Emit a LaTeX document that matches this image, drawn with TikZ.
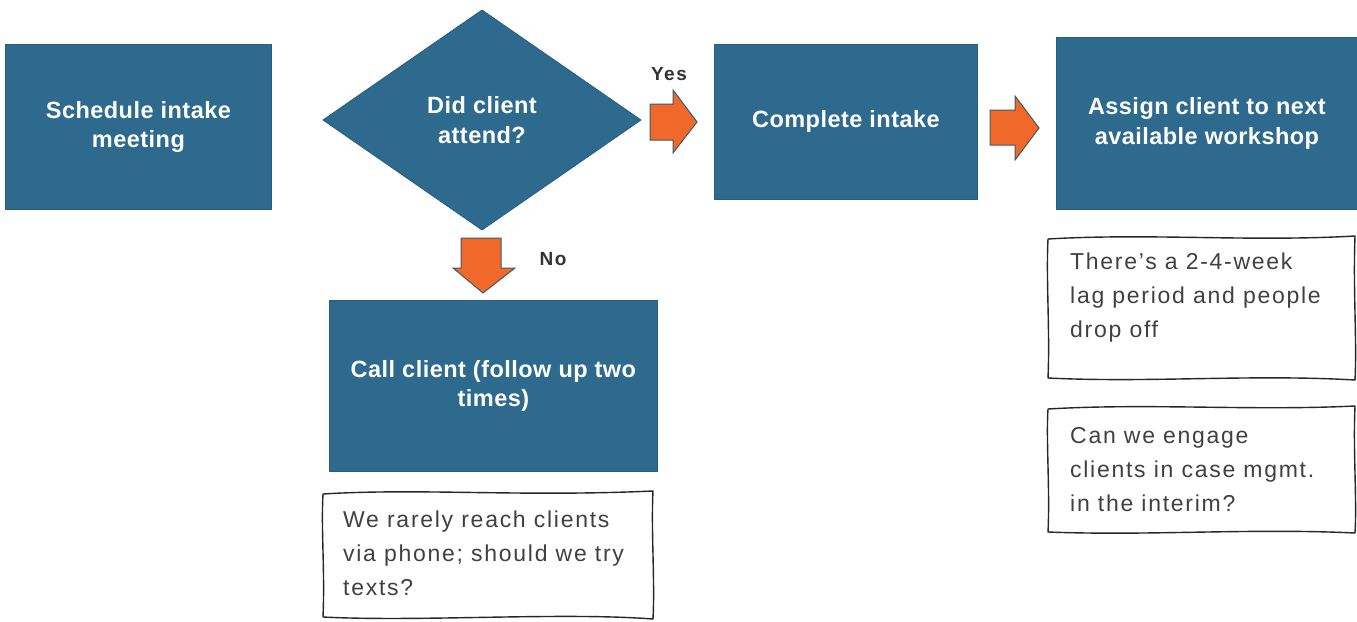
\documentclass[tikz,border=0pt]{standalone}
\usepackage{fontspec}
\setmainfont{Liberation Sans}
\definecolor{boxblue}{HTML}{2D6A8E}
\definecolor{boxedge}{HTML}{285E7E}
\definecolor{arroworange}{HTML}{F0692A}
\definecolor{arrowedge}{HTML}{3E5A6C}
\definecolor{notetext}{HTML}{404040}
\begin{document}
\begin{tikzpicture}[x=1pt,y=-1pt,
  stepbox/.style={rectangle,fill=boxblue,draw=boxedge,line width=0.8pt,text=white,
    font=\fontsize{23.5}{29.5}\selectfont\bfseries\addfontfeatures{LetterSpace=2},align=center,anchor=north west,inner sep=0pt},
  blockarrow/.style={fill=arroworange,draw=arrowedge,line width=1pt,line join=miter},
  notebox/.style={draw=black!85,line width=1.4pt,line join=round},
  notetxt/.style={anchor=north west,align=left,text=notetext,inner sep=0pt,
    font=\fontsize{23}{34}\selectfont\addfontfeatures{LetterSpace=7.5}},
  lbl/.style={font=\fontsize{19}{22}\selectfont\bfseries\addfontfeatures{LetterSpace=8},text=black!80}]
\useasboundingbox (0,0) rectangle (1357,621);
% boxes
\node[stepbox,minimum width=266pt,minimum height=165pt] (sched) at (5,44) {Schedule intake\\meeting};
\node[stepbox,minimum width=263pt,minimum height=155pt] (comp) at (714,44) {Complete intake};
\node[stepbox,minimum width=301pt,minimum height=172pt] (assign) at (1056,37) {Assign client to next\\available workshop};
\node[stepbox,minimum width=328pt,minimum height=171pt] (call) at (329,300) {Call client (follow up two\\times)};
% diamond
\coordinate (dc) at (482,120);
\draw[fill=boxblue,draw=boxedge,line width=0.8pt] (323,120) -- (482,10) -- (641,120) -- (482,230) -- cycle;
\node[text=white,font=\fontsize{23.5}{29.5}\selectfont\bfseries\addfontfeatures{LetterSpace=2},align=center] (did) at (dc) {Did client\\attend?};
% orange arrows
\draw[blockarrow] (650,104) -- (673,104) -- (673,90) -- (697,122) -- (673,153) -- (673,140) -- (650,140) -- cycle;
\node[lbl] (yes) at (669,74) {Yes};
\draw[blockarrow] (990,110) -- (1015,110) -- (1015,96) -- (1039,128) -- (1015,160) -- (1015,145) -- (990,145) -- cycle;
\draw[blockarrow] (461,238) -- (501,238) -- (501,268) -- (515,268) -- (483,293) -- (453,268) -- (461,268) -- cycle;
\node[lbl] (no) at (553,259) {No};
% notes
\draw[notebox] (323,494) .. controls (420,488) and (520,497) .. (653,491)
  .. controls (651,530) and (655,580) .. (653,619)
  .. controls (560,612) and (420,622) .. (323,617)
  .. controls (325,570) and (321,530) .. cycle;
\node[notetxt] (n1) at (343,511) {We rarely reach clients\\via phone; should we try\\texts?};
\draw[notebox] (1048,239) .. controls (1150,233) and (1250,242) .. (1355,236)
  .. controls (1353,290) and (1357,340) .. (1355,380)
  .. controls (1250,374) and (1150,383) .. (1048,378)
  .. controls (1050,330) and (1046,280) .. cycle;
\node[notetxt] (n2) at (1070,253) {There's a 2-4-week\\lag period and people\\drop off};
\draw[notebox] (1048,409) .. controls (1150,403) and (1250,411) .. (1355,406)
  .. controls (1353,450) and (1357,500) .. (1355,533)
  .. controls (1250,528) and (1150,536) .. (1048,532)
  .. controls (1050,490) and (1046,440) .. cycle;
\node[notetxt] (n3) at (1070,427) {Can we engage\\clients in case mgmt.\\in the interim?};
\end{tikzpicture}
\end{document}
